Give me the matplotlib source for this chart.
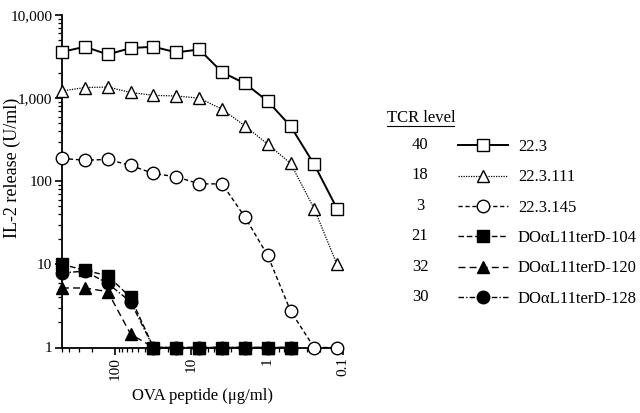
import numpy as np
import matplotlib
matplotlib.use("Agg")
import matplotlib.pyplot as plt
from matplotlib.lines import Line2D
from matplotlib.ticker import NullFormatter, LogLocator

plt.rcParams['font.family'] = ['Liberation Serif', 'DejaVu Serif']

# OVA peptide concentrations (ug/ml), 2-fold dilutions
conc = [500, 250, 125, 62.5, 31.25, 15.6, 7.8, 3.9, 1.95, 0.98, 0.49, 0.24, 0.12]

s_223 = [3600, 4150, 3350, 4000, 4150, 3550, 3850, 2050, 1500, 920, 460, 160, 47]
s_223_111 = [1220, 1340, 1360, 1170, 1080, 1060, 1000, 735, 463, 279, 164, 47, 10]
s_223_145 = [188, 179, 183, 155, 124, 113, 93, 93, 37, 12.8, 2.75, 1, 1]
s_d104 = [10, 8.5, 7.3, 4.0, 1, 1, 1, 1, 1, 1, 1]
s_d120 = [5.2, 5.2, 4.7, 1.45, 1, 1, 1, 1, 1, 1, 1]
s_d128 = [7.9, 8.3, 5.9, 3.55, 1, 1, 1, 1, 1, 1, 1]

labels = ["22.3", "22.3.111", "22.3.145", "DO\u03b1L11terD-104", "DO\u03b1L11terD-120", "DO\u03b1L11terD-128"]
tcr = ["40", "18", "3", "21", "32", "30"]

W, H = 640, 413
fig = plt.figure(figsize=(6.4, 4.13), dpi=100)
ax = fig.add_axes([62 / W, (H - 347.5) / H, (343 - 62) / W, (347.5 - 15) / H])

ms = 9
styles = [
    dict(lw=1.4, marker='s', mfc='white', dashes=None),
    dict(lw=0.9, marker='^', mfc='white', dashes=(1, 1)),
    dict(lw=1.0, marker='o', mfc='white', dashes=(3, 2)),
    dict(lw=1.0, marker='s', mfc='black', dashes=(4, 2)),
    dict(lw=1.0, marker='^', mfc='black', dashes=(5, 3)),
    dict(lw=1.0, marker='o', mfc='black', dashes=(4, 1.5, 1, 1.5)),
]
series = [s_223, s_223_111, s_223_145, s_d104, s_d120, s_d128]
order = [3, 4, 5, 2, 1, 0]
handles = [None] * 6
for i in order:
    st = styles[i]
    y = series[i]
    x = conc[:len(y)]
    kw = dict(color='black', lw=st['lw'], marker=st['marker'], ms=ms,
              mfc=st['mfc'], mec='black', mew=1.0, clip_on=False, zorder=3 + (i < 3))
    ln, = ax.plot(x, y, linestyle='-' if st['dashes'] is None else '--', **kw)
    if st['dashes'] is not None:
        ln.set_dashes(st['dashes'])
    handles[i] = ln

ax.set_xscale('log')
ax.set_yscale('log')
ax.set_xlim(500, 0.1)
ax.set_ylim(1, 10000)

for sp in ['top', 'right']:
    ax.spines[sp].set_visible(False)
for sp in ['left', 'bottom']:
    ax.spines[sp].set_linewidth(1.3)

ax.set_yticks([1, 10, 100, 1000, 10000])
ax.set_yticklabels(["1", "10", "100", "1,000", "10,000"], fontsize=11)
ax.yaxis.set_minor_locator(LogLocator(base=10, subs=np.arange(2, 10)))
ax.yaxis.set_minor_formatter(NullFormatter())
ax.set_xticks([100, 10, 1, 0.1])
ax.set_xticklabels(["100", "10", "1", "0.1"], fontsize=11, rotation=90)
ax.xaxis.set_minor_locator(LogLocator(base=10, subs=np.arange(2, 10)))
ax.xaxis.set_minor_formatter(NullFormatter())
ax.tick_params(which='major', direction='out', length=5, width=1.2, pad=2)
ax.tick_params(which='minor', direction='out', length=3, width=0.9)

ax.set_ylabel("IL-2 release (U/ml)", fontsize=13)
ax.yaxis.set_label_coords(-0.146, 0.54)
ax.set_xlabel("OVA peptide (\u03bcg/ml)", fontsize=12)
ax.xaxis.set_label_coords(0.5, -0.122)

# legend
leg = fig.legend(handles, labels, loc='upper left',
                 bbox_to_anchor=(458 / W, 1 - 139 / H), frameon=False,
                 fontsize=12, handlelength=3.0, handletextpad=0.6,
                 labelspacing=0.86, borderpad=0, borderaxespad=0)

fig.text(387 / W, 1 - 118 / H, "TCR level", fontsize=12, va='center', ha='left')
fig.add_artist(Line2D([387 / W, 454 / W], [1 - 126 / H, 1 - 126 / H],
                      transform=fig.transFigure, color='black', lw=0.8))
row_y = [145, 175, 206, 236.5, 267, 297]
for t, yy in zip(tcr, row_y):
    fig.text(420 / W, 1 - yy / H, t, fontsize=12, va='center', ha='center')

fig.savefig("out.png", dpi=100)
